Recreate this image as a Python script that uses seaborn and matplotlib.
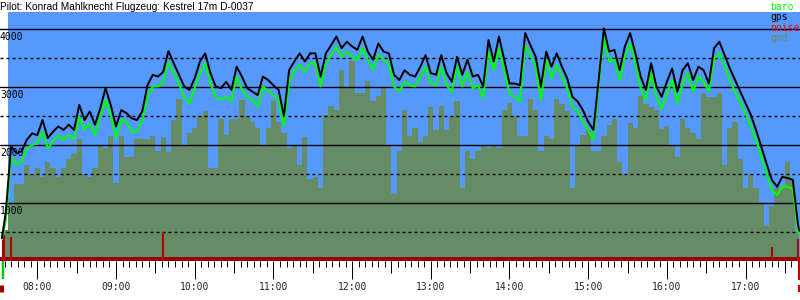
import numpy as np
import pandas as pd
import matplotlib
matplotlib.use("Agg")
import matplotlib.pyplot as plt
import matplotlib.transforms as mtransforms
import seaborn as sns

title = "Pilot: Konrad Mahlknecht Flugzeug: Kestrel 17m D-0037"

# time in minutes after 07:00
minutes = [33, 36] + list(range(40, 641, 4)) + [641]

gps = [390, 850,
       1980, 1860, 1890, 2090, 2200, 2170, 2430, 2120, 2230, 2320, 2260, 2350,
       2260, 2690, 2430, 2580, 2350, 2630, 2980, 2690, 2320, 2600, 2550, 2460,
       2430, 2580, 3030, 3210, 3180, 3260, 3620, 3410, 3210, 3010, 2950, 3150,
       3440, 3580, 3240, 3010, 2980, 3090, 2950, 3350, 3180, 2980, 2920, 2860, 3180,
       3120, 3030, 2950, 2500, 3290, 3440, 3580, 3440, 3580, 3580, 3180, 3580,
       3720, 3870, 3670, 3780, 3700, 3640, 3870, 3610, 3470, 3750, 3610, 3580, 3210, 3120,
       3290, 3210, 3180, 3350, 3550, 3240, 3210, 3550, 3240, 3090, 3520, 3210,
       3470, 3180, 3210, 3010, 3810, 3440, 3870, 3470, 3060, 3060, 3030, 3930, 3720,
       3520, 3010, 3610, 3350, 3580, 3350, 3150, 2830, 2750, 2600, 2400, 2260,
       3120, 4010, 3610, 3640, 3290, 3700, 3930, 3580, 3180, 2950, 3410, 3010, 2830, 3090,
       3320, 2920, 3290, 3410, 3120, 3350, 3290, 3060, 3670, 3780, 3550, 3320,
       3120, 2920, 2720, 2520, 2260, 1970, 1680, 1400, 1280, 1450, 1430, 1400, 620,
       520]

baro = [390, 700,
        1800, 1670, 1710, 1940, 2000, 2030, 2230, 1940, 2060, 2170, 2090, 2170,
        2100, 2490, 2260, 2370, 2170, 2490, 2780, 2520, 2120, 2430, 2400, 2230,
        2230, 2430, 2830, 3010, 3010, 3090, 3420, 3240, 3060, 2830, 2720, 2980,
        3240, 3410, 3060, 2830, 2780, 2830, 2750, 3180, 2950, 2830, 2780, 2660, 3010,
        2920, 2860, 2780, 2330, 3090, 3290, 3380, 3260, 3410, 3410, 3010, 3410,
        3550, 3700, 3520, 3610, 3520, 3470, 3670, 3470, 3290, 3550, 3470, 3410, 3010, 2920,
        3090, 3030, 3010, 3180, 3350, 3060, 3030, 3350, 3030, 2920, 3350, 3010,
        3260, 2980, 3030, 2810, 3610, 3290, 3670, 3290, 2890, 2830, 2750, 3720, 3550,
        3350, 2780, 3470, 3150, 3380, 3180, 2980, 2660, 2580, 2400, 2260, 2090,
        3030, 3840, 3440, 3470, 3120, 3520, 3750, 3410, 2980, 2780, 3240, 2830, 2630, 2890,
        3120, 2720, 3060, 3240, 2920, 3180, 3090, 2920, 3490, 3580, 3380, 3120,
        2920, 2720, 2550, 2320, 2090, 1800, 1510, 1220, 1140, 1280, 1280, 1250, 530,
        470]

gnd = [300, 530,
       1000, 1330, 1330, 1650, 1500, 1600, 1450, 1700, 1600, 1450, 1600, 1750,
       1850, 2100, 1500, 1450, 1600, 2000, 1950, 2150, 1350, 2150, 1800, 1800,
       2100, 2100, 2100, 2150, 1900, 2130, 1880, 2430, 2800, 2000, 2200, 2300,
       2500, 2580, 1600, 1600, 2450, 2180, 2450, 2450, 2780, 2500, 2400, 2300, 2000,
       2300, 2750, 2400, 2200, 1940, 2000, 1650, 2130, 1420, 1450, 1250, 2520,
       2680, 2600, 3300, 3000, 3450, 2900, 2900, 3100, 2750, 2850, 3000, 2000, 1150, 1900,
       2600, 2150, 2300, 2050, 2150, 2650, 2250, 2680, 2250, 2500, 2750, 1250,
       1900, 1750, 1900, 2000, 1950, 2000, 1950, 2600, 2730, 2500, 2150, 2150, 2800,
       2600, 1900, 2150, 2100, 2800, 2700, 2580, 1250, 2000, 2180, 2250, 1900,
       1900, 2150, 2350, 2450, 1700, 1500, 2380, 2300, 2850, 2700, 2650, 2600, 2280, 2330,
       2000, 1800, 2450, 2300, 2200, 2100, 2900, 2830, 2830, 2900, 1650, 2300,
       2400, 1750, 1250, 1500, 1250, 1000, 600, 950, 1250, 1300, 1700, 1400, 500,
       450]

noise_minutes = [33.9, 34.6, 39.6, 155.6, 620.5, 640.3]
noise_values = [360, 450, 420, 500, 240, 380]
noise_floor = 70

hour_labels = ["08:00", "09:00", "10:00", "11:00", "12:00",
               "13:00", "14:00", "15:00", "16:00", "17:00"]
y_labels = [1000, 2000, 3000, 4000]
legend_names = ["baro", "gps", "noise", "gnd"]

BLUE = "#5599ff"
GND = "#668c66"
GREEN = "#00ff00"
DARKRED = "#990000"

sns.set_style("white")
plt.rcParams["font.family"] = ["DejaVu Sans Mono"]
plt.rcParams["lines.scale_dashes"] = False

px = 0.72  # points per pixel at 100 dpi

fig = plt.figure(figsize=(8, 3), dpi=100)
ax = fig.add_axes([0, 39 / 300, 1, 249 / 300])
ax.set_facecolor("white")
ax.set_xlim(31.56, 641.5)
ax.set_ylim(0, 4293)
for s in ax.spines.values():
    s.set_visible(False)

ax.axvspan(38, 641.5, color=BLUE, lw=0, zorder=0)
ax.fill_between(minutes, gnd, step="mid", color=GND, lw=0, zorder=1)

# grid lines
for v in range(500, 4001, 500):
    if v % 1000 == 0:
        ax.axhline(v, color="black", lw=1.0, zorder=2)
    else:
        ax.axhline(v, color="black", lw=1.0, ls=(0, (3 * px, 3 * px)), zorder=2)

# noise
ax.axhspan(0, noise_floor, color=DARKRED, lw=0, zorder=3)
ax.vlines(noise_minutes, 0, noise_values, color="#b00000", lw=1.5, zorder=3)

df = pd.DataFrame({"t": minutes, "gps": gps, "baro": baro})
sns.lineplot(data=df, x="t", y="baro", ax=ax, color=GREEN, lw=1.5, zorder=4)
sns.lineplot(data=df, x="t", y="gps", ax=ax, color="black", lw=1.4, zorder=5)
ax.set_xlabel("")
ax.set_ylabel("")

# y labels
lab_tr = mtransforms.offset_copy(ax.transData, fig=fig, y=-3, units="dots")
for v in y_labels:
    ax.text(31.56, v, str(v), transform=lab_tr, ha="left", va="top",
            fontsize=7, color="black", zorder=6)
ax.set_yticks([])

# x ticks
ax.set_xticks([60 * (i + 1) for i in range(len(hour_labels))])
ax.set_xticklabels(hour_labels, fontsize=7)
ax.set_xticks(list(range(35, 641, 5)), minor=True)
ax.tick_params(axis="x", which="major", direction="out", length=18 * px,
               width=1 * px, pad=3 * px, color="black", bottom=True)
ax.tick_params(axis="x", which="minor", direction="out", length=6 * px,
               width=1 * px, color="black", bottom=True)
sec = ax.secondary_xaxis("bottom")
sec.set_xticks([60 * (i + 1) - 30 for i in range(len(hour_labels) + 1)])
sec.tick_params(axis="x", direction="out", length=12 * px, width=1 * px,
                labelbottom=False, color="black")
for s in sec.spines.values():
    s.set_visible(False)

# takeoff / landing markers below axis
bt = mtransforms.blended_transform_factory(ax.transData, fig.transFigure)
ax.plot([minutes[0] + 0.9] * 2, [39 / 300, 21 / 300], color="#00cc00", lw=2 * px * 1.2,
        transform=bt, clip_on=False, solid_capstyle="butt")
ax.plot([minutes[-1] - 0.3] * 2, [39 / 300, 20 / 300], color="#cc0000", lw=2 * px,
        transform=bt, clip_on=False, solid_capstyle="butt")
ax.plot([minutes[0] - 0.5] * 2, [15 / 300, 8 / 300], color=DARKRED, lw=5 * px,
        transform=bt, clip_on=False, solid_capstyle="butt")
ax.plot([minutes[-1] - 0.3] * 2, [15 / 300, 8 / 300], color="#cc0000", lw=2 * px,
        transform=bt, clip_on=False, solid_capstyle="butt")

# title
fig.text(0.0, 1 - 2.5 / 300, title, ha="left", va="top", fontsize=7.3,
         family=["Liberation Sans"], color="black")

# legend
leg_colors = [GREEN, "black", "#ff0000", "#6e8c5a"]
for i, (name, c) in enumerate(zip(legend_names, leg_colors)):
    fig.text(770 / 800, 1 - (10 + 10.3 * i) / 300, name, ha="left", va="baseline",
             fontsize=7, color=c)

fig.savefig("out.png", dpi=100)
